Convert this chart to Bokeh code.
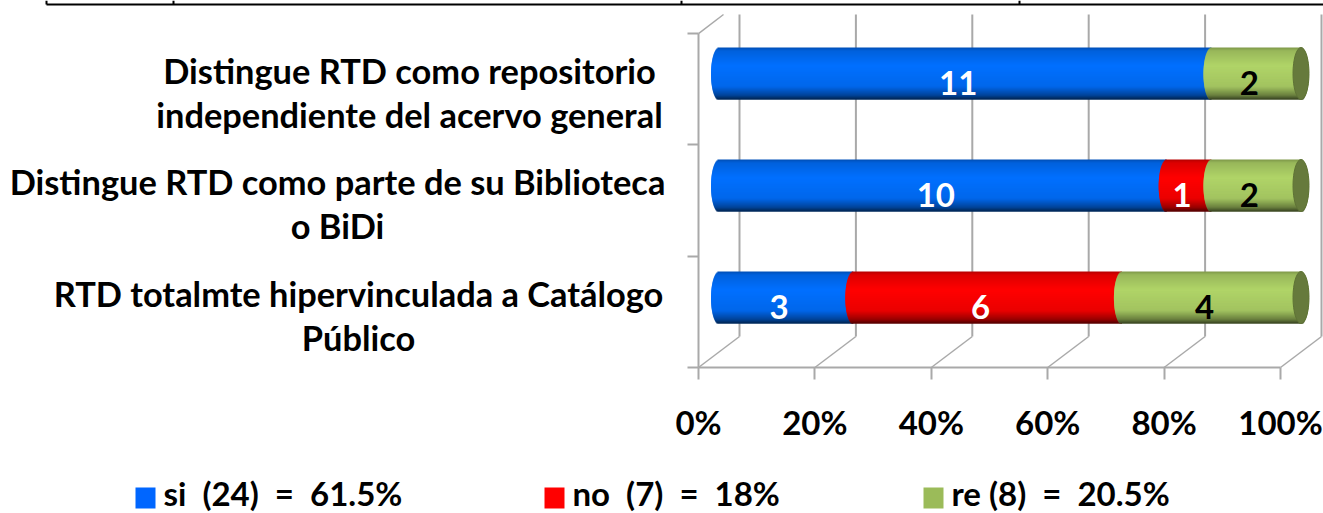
import math
from bokeh.plotting import figure
from bokeh.embed import file_html
from bokeh.resources import INLINE
from bokeh.core.properties import value
from bokeh.models import Range1d, FixedTicker, PrintfTickFormatter

# --- data -------------------------------------------------------------
labels = ["RTD totalmte hipervinculada a Catálogo\nPúblico",
          "Distingue RTD como parte de su Biblioteca\no BiDi",
          "Distingue RTD como repositorio\nindependiente del acervo general"]
si = [3, 10, 11]
no = [6, 1, 0]
re_ = [4, 2, 2]
series_names = ["si", "no", "re"]
series_colors = ["#0066FF", "#FF0000", "#9BBB59"]
series_body = [(0, 112, 255), (255, 0, 0), (176, 212, 104)]
label_colors = ["white", "white", "black"]
legend_texts = ["si\u00a0\u00a0(24)\u00a0\u00a0=\u00a0\u00a061.5%", "no\u00a0\u00a0(7)\u00a0\u00a0=\u00a0\u00a018%", "re\u00a0(8)\u00a0\u00a0=\u00a0\u00a020.5%"]
x_ticks = [0, 20, 40, 60, 80, 100]

FONT = "Lato"
W, H = 1323, 513
X0, XS = 698.0, 5.82      # page px of 0 %, px per percent
Y0, YS = 367.0, 111.3     # page px of the floor, px per category


def X(px):
    return (px - X0) / XS


def Y(py):
    return (Y0 - py) / YS


p = figure(width=W, height=H, output_backend="svg", toolbar_location=None,
           x_range=Range1d(X(0), X(W)), y_range=Range1d(Y(H), Y(0)),
           min_border=0, min_border_left=0, min_border_right=0,
           min_border_top=0, min_border_bottom=0,
           outline_line_color=None)
p.grid.visible = False
p.background_fill_color = "white"

GRID = "#A9A9A9"
depth_x, depth_y = X(739) - X(698), Y(336) - Y(367)

# back wall and floor
p.segment([t + depth_x for t in x_ticks], [depth_y] * 6,
          [t + depth_x for t in x_ticks], [Y(14)] * 6, line_color=GRID, line_width=2)
p.segment(x_ticks, [0] * 6, [t + depth_x for t in x_ticks], [depth_y] * 6,
          line_color=GRID, line_width=1.5)
p.segment([0], [3], [X(723)], [Y(14)], line_color=GRID, line_width=1.5)

# axes
xa = p.xaxis[0]
xa.fixed_location = 0
xa.ticker = FixedTicker(ticks=x_ticks)
xa.formatter = PrintfTickFormatter(format="%d%%")
xa.bounds = (0, 100)
xa.axis_line_color = GRID
xa.axis_line_width = 2
xa.major_tick_line_color = GRID
xa.major_tick_line_width = 2
xa.major_tick_in = 0
xa.major_tick_out = 12
xa.minor_tick_line_color = None
xa.major_label_text_font = FONT
xa.major_label_text_font_style = "bold"
xa.major_label_text_font_size = "33px"
xa.major_label_text_color = "black"
xa.major_label_standoff = 22

ya = p.yaxis[0]
ya.fixed_location = 0
ya.ticker = FixedTicker(ticks=[0, 1, 2, 3])
ya.major_label_overrides = {0: "", 1: "", 2: "", 3: ""}
ya.bounds = (0, 3)
ya.axis_line_color = GRID
ya.axis_line_width = 2
ya.major_tick_line_color = GRID
ya.major_tick_line_width = 2
ya.major_tick_in = 0
ya.major_tick_out = 11
ya.minor_tick_line_color = None

# table rule cropped at the top of the picture
p.segment([X(46)], [Y(4)], [X(W)], [Y(4)], line_color="black", line_width=2)
p.segment([X(x) for x in (46, 173, 681, 1019)], [Y(0)] * 4,
          [X(x) for x in (46, 173, 681, 1019)], [Y(4)] * 4,
          line_color="black", line_width=2)

# cylinders
STOPS = [(0.0, 0.70), (0.06, 0.86), (0.35, 1.0), (0.75, 0.92), (0.92, 0.6), (1.0, 0.3)]


def shade(rgb, t):
    for (a, fa), (b, fb) in zip(STOPS, STOPS[1:]):
        if t <= b:
            f = fa + (fb - fa) * (t - a) / (b - a)
            break
    return "#%02x%02x%02x" % tuple(int(round(c * f)) for c in rgb)


BAR_H = 52
ELL = 8.0 / XS
bar_dx = depth_x / 2
centers = [297, 185, 73]   # page px of the middle of each bar
series = [si, no, re_]

for i in range(3):
    total = si[i] + no[i] + re_[i]
    cum = 0
    cy = centers[i]
    for s in range(3):
        v = series[s][i]
        if v == 0:
            continue
        start = 100 * cum / total + bar_dx
        end = 100 * (cum + v) / total + bar_dx
        last = s == 2
        left, right, top, bottom, col = [], [], [], [], []
        for k in range(BAR_H):
            t = (k + 0.5) / BAR_H
            u = 2 * t - 1
            bulge = ELL * math.sqrt(max(0, 1 - u * u))
            left.append(start - bulge)
            right.append(end + (bulge if last else 0))
            row_top = cy - BAR_H // 2 + k
            top.append(Y(row_top))
            bottom.append(Y(min(row_top + 2, cy + BAR_H // 2)))
            col.append(shade(series_body[s], t))
        p.quad(left=left, right=right, top=top, bottom=bottom,
               fill_color=col, fill_alpha=1.0, line_color=None)
        if last:
            p.ellipse([end], [Y(cy)], width=2 * ELL, height=BAR_H / YS,
                      fill_color="#667A3C", fill_alpha=1.0, line_color="#5F7336", line_width=1)
        p.text([(start + end) / 2 - 7 / XS], [Y(cy + 9)], text=[str(v)],
               text_font=value(FONT), text_font_style="bold", text_font_size="33px",
               text_color=label_colors[s], text_align="center", text_baseline="middle")
        cum += v

# category labels
label_x = [358, 337, 409]
label_y = [315, 203, 92]
for lab, lx, ly in zip(labels, label_x, label_y):
    p.text([X(lx)], [Y(ly)], text=[lab], text_font=value(FONT), text_font_style="bold",
           text_font_size="34.4px", text_color="black", text_align="center",
           text_baseline="middle", text_line_height=1.08)

# legend
sw_x = [135, 544, 923]
for name, c, txt, sx in zip(series_names, series_colors, legend_texts, sw_x):
    p.quad(left=[X(sx)], right=[X(sx + 20)], top=[Y(487)], bottom=[Y(508)],
           fill_color=c, fill_alpha=1.0, line_color=None)
    p.text([X(sx + 28)], [Y(492)], text=[txt], text_font=value(FONT), text_font_style="bold",
           text_font_size="33px", text_color="black", text_align="left", text_baseline="middle")

open("out.html", "w").write(file_html(p, INLINE))
